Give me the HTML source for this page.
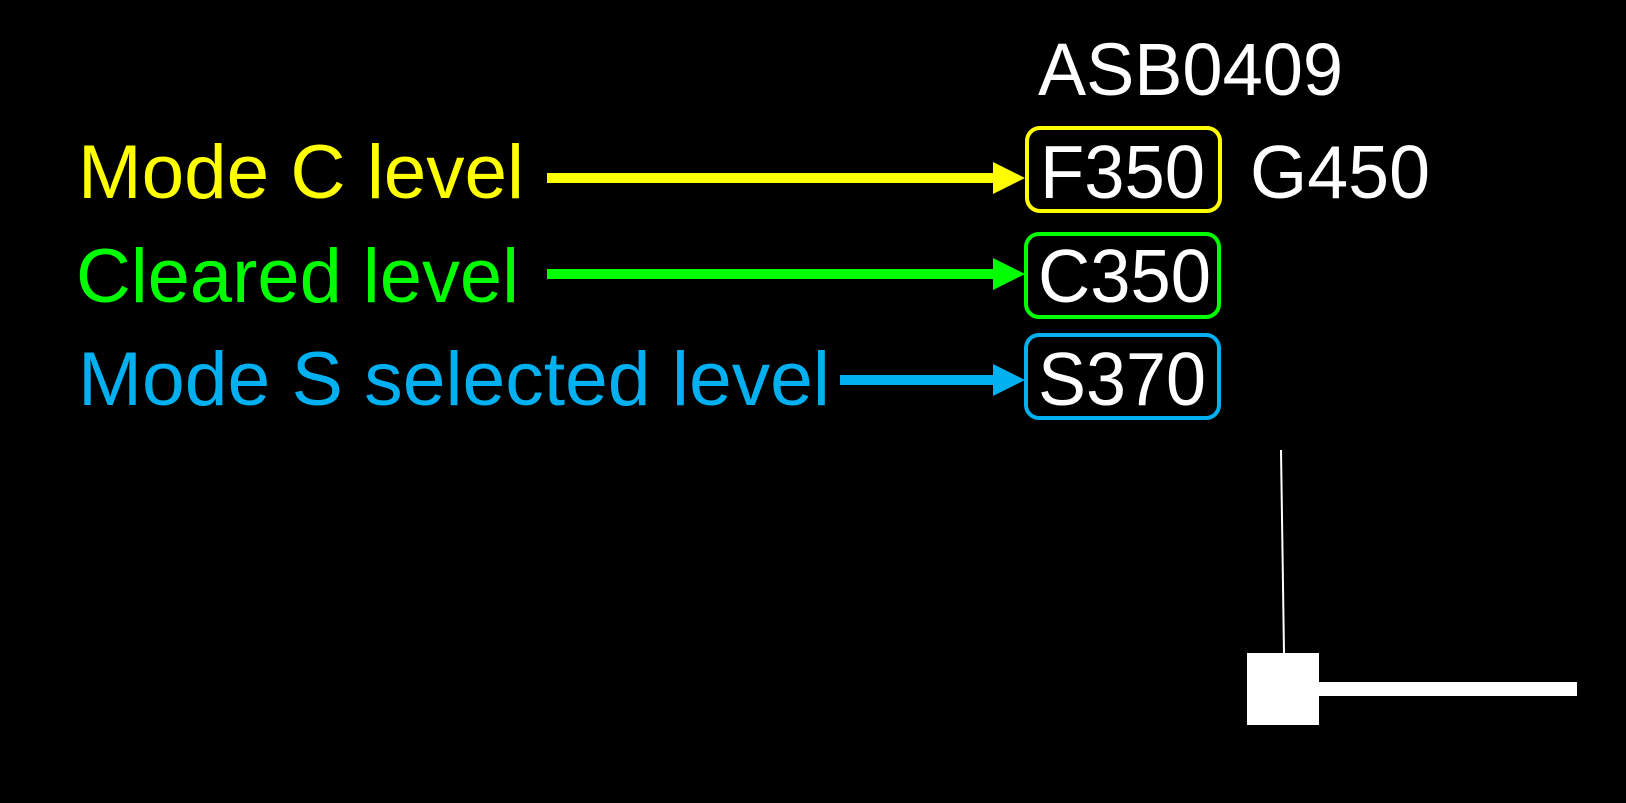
<!DOCTYPE html>
<html><head><meta charset="utf-8"><style>
html,body{margin:0;padding:0;background:#000;}
svg{display:block}
text{font-family:"Liberation Sans",sans-serif;}
</style></head><body>
<svg width="1626" height="803" viewBox="0 0 1626 803" xmlns="http://www.w3.org/2000/svg">
<rect width="1626" height="803" fill="#000"/>
<text x="1038" y="95" font-size="74" fill="#fff" textLength="305" lengthAdjust="spacingAndGlyphs">ASB0409</text>
<!-- boxes -->
<rect x="1027" y="128" width="193" height="83" rx="13" fill="none" stroke="#ffff00" stroke-width="4"/>
<rect x="1026" y="234" width="193" height="83" rx="13" fill="none" stroke="#00ff00" stroke-width="4"/>
<rect x="1026" y="335" width="193" height="83" rx="13" fill="none" stroke="#00b0f0" stroke-width="4"/>
<text x="1040" y="198" font-size="75" fill="#fff" textLength="165" lengthAdjust="spacingAndGlyphs">F350</text>
<text x="1250" y="198" font-size="75" fill="#fff" textLength="180" lengthAdjust="spacingAndGlyphs">G450</text>
<text x="1038" y="302" font-size="75" fill="#fff" textLength="173" lengthAdjust="spacingAndGlyphs">C350</text>
<text x="1038" y="405" font-size="75" fill="#fff" textLength="168" lengthAdjust="spacingAndGlyphs">S370</text>
<!-- labels -->
<text x="78" y="198" font-size="76" fill="#ffff00" textLength="446" lengthAdjust="spacingAndGlyphs">Mode C level</text>
<text x="76" y="302" font-size="76" fill="#00ff00" textLength="443" lengthAdjust="spacingAndGlyphs">Cleared level</text>
<text x="78" y="405" font-size="76" fill="#00b0f0" textLength="752" lengthAdjust="spacingAndGlyphs">Mode S selected level</text>
<!-- arrows -->
<rect x="547" y="173" width="450" height="10" fill="#ffff00"/>
<polygon points="993,162 1025,178 993,194" fill="#ffff00"/>
<rect x="547" y="269" width="450" height="10" fill="#00ff00"/>
<polygon points="993,258 1025,274 993,290" fill="#00ff00"/>
<rect x="840" y="375" width="157" height="10" fill="#00b0f0"/>
<polygon points="993,364 1025,380 993,396" fill="#00b0f0"/>
<!-- aircraft symbol -->
<line x1="1281" y1="450" x2="1284" y2="653" stroke="#fff" stroke-width="2"/>
<rect x="1247" y="653" width="72" height="72" fill="#fff"/>
<rect x="1319" y="682" width="258" height="14" fill="#fff"/>
</svg>
</body></html>
